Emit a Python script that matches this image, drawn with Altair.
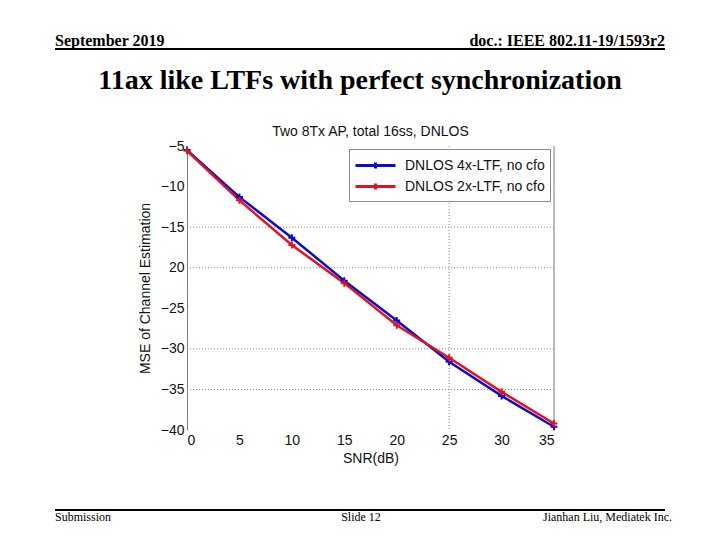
import altair as alt
import pandas as pd

snr = [0, 5, 10, 15, 20, 25, 30, 35]
mse_4x = [-5.5, -11.3, -16.3, -21.6, -26.5, -31.6, -35.8, -39.6]
mse_2x = [-5.6, -11.7, -17.2, -21.9, -27.1, -31.1, -35.3, -39.2]
series_names = ["DNLOS 4x-LTF, no cfo", "DNLOS 2x-LTF, no cfo"]
series_colors = ["#0c0cc8", "#e0141e"]
x_ticks = [0, 5, 10, 15, 20, 25, 30, 35]
y_ticks = [-5, -10, -15, -20, -25, -30, -35, -40]
grid_y = [-15, -20, -30, -35]
grid_x = [25]

rows = []
for name, vals in zip(series_names, [mse_4x, mse_2x]):
    for s, v in zip(snr, vals):
        rows.append({"snr": s, "mse": v, "series": name})
df = pd.DataFrame(rows)

W, H = 367, 284
SANS = "Liberation Sans"
SERIF = "Liberation Serif"

xscale = alt.Scale(domain=[0, 35], nice=False, zero=False)
yscale = alt.Scale(domain=[-40, -5], nice=False, zero=False)
cscale = alt.Scale(domain=series_names, range=series_colors)

x_axis = alt.Axis(
    values=x_ticks, title="SNR(dB)", grid=False, domain=False, ticks=False,
    labelFont=SANS, labelFontSize=14, labelColor="#111", labelPadding=3,
    titleFont=SANS, titleFontSize=14, titleFontWeight="normal", titleColor="#111",
    titlePadding=4,
)
y_axis = alt.Axis(
    values=y_ticks, title="MSE of Channel Estimation", grid=False,
    domain=True, domainColor="#7a7a7a", ticks=False,
    labelExpr="datum.value == -20 ? '20' : datum.label",
    labelFont=SANS, labelFontSize=14, labelColor="#111", labelPadding=3,
    titleFont=SANS, titleFontSize=14, titleFontWeight="normal", titleColor="#111",
    titlePadding=8,
)

base = alt.Chart(df).encode(
    x=alt.X("snr:Q", scale=xscale, axis=x_axis),
    y=alt.Y("mse:Q", scale=yscale, axis=y_axis),
    color=alt.Color(
        "series:N", scale=cscale, sort=series_names,
        legend=alt.Legend(
            title=None, orient="none", legendX=162, legendY=3,
            fillColor="white", strokeColor="#8a8a8a", padding=5,
            symbolType="M-1,0L3,0M1,-0.3L1,0.3", symbolSize=400,
            symbolStrokeWidth=3, symbolFillColor="transparent",
            labelFont=SANS, labelFontSize=14, labelColor="#111",
            labelOffset=28, rowPadding=0, labelLimit=300,
        ),
    ),
)

lines = base.mark_line(strokeWidth=2.5)
points = base.mark_point(
    shape="M-1,0L1,0M0,-1L0,1", filled=False, size=49, strokeWidth=2, opacity=1
)

gy = alt.Chart(pd.DataFrame({"y": grid_y})).mark_rule(
    color="#8a8a8a", strokeDash=[1, 2], strokeWidth=1
).encode(y=alt.Y("y:Q", scale=yscale, axis=y_axis))

gx = alt.Chart(pd.DataFrame({"x": grid_x})).mark_rule(
    color="#8a8a8a", strokeDash=[1, 2], strokeWidth=1
).encode(x=alt.X("x:Q", scale=xscale, axis=x_axis))

right_edge = alt.Chart(pd.DataFrame({"x": [35]})).mark_rule(
    color="#7a7a7a", strokeWidth=1
).encode(x=alt.X("x:Q", scale=xscale, axis=x_axis))

title_txt = alt.Chart(pd.DataFrame({"t": ["Two 8Tx AP, total 16ss, DNLOS"]})).mark_text(
    font=SANS, fontSize=14, color="#111", baseline="alphabetic", align="center"
).encode(x=alt.value(W / 2), y=alt.value(-10), text="t:N")

hdr_left = alt.Chart(pd.DataFrame({"t": ["September 2019"]})).mark_text(
    font=SERIF, fontSize=16, fontWeight="bold", color="black", align="left", baseline="alphabetic"
).encode(x=alt.value(-132), y=alt.value(-100), text="t:N")
hdr_right = alt.Chart(pd.DataFrame({"t": ["doc.: IEEE 802.11-19/1593r2"]})).mark_text(
    font=SERIF, fontSize=16, fontWeight="bold", color="black", align="right", baseline="alphabetic"
).encode(x=alt.value(478), y=alt.value(-100), text="t:N")
hdr_line = alt.Chart(pd.DataFrame({"a": [0]})).mark_rule(color="black", strokeWidth=2).encode(
    x=alt.value(-132), x2=alt.value(478), y=alt.value(-97)
)
main_title = alt.Chart(pd.DataFrame({"t": ["11ax like LTFs with perfect synchronization"]})).mark_text(
    font=SERIF, fontSize=28, fontWeight="bold", color="black", align="center", baseline="alphabetic"
).encode(x=alt.value(173), y=alt.value(-57), text="t:N")

ftr_line = alt.Chart(pd.DataFrame({"a": [0]})).mark_rule(color="black", strokeWidth=2).encode(
    x=alt.value(-132), x2=alt.value(478), y=alt.value(364)
)
ftr_left = alt.Chart(pd.DataFrame({"t": ["Submission"]})).mark_text(
    font=SERIF, fontSize=12, color="black", align="left", baseline="alphabetic"
).encode(x=alt.value(-132), y=alt.value(375), text="t:N")
ftr_mid = alt.Chart(pd.DataFrame({"t": ["Slide 12"]})).mark_text(
    font=SERIF, fontSize=12, color="black", align="center", baseline="alphabetic"
).encode(x=alt.value(174), y=alt.value(375), text="t:N")
ftr_right = alt.Chart(pd.DataFrame({"t": ["Jianhan Liu, Mediatek Inc."]})).mark_text(
    font=SERIF, fontSize=12, color="black", align="right", baseline="alphabetic"
).encode(x=alt.value(485), y=alt.value(375), text="t:N")

chart = alt.layer(
    gy, gx, right_edge, lines, points, title_txt,
    hdr_left, hdr_right, hdr_line, main_title, ftr_line, ftr_left, ftr_mid, ftr_right,
).properties(
    width=W, height=H,
    autosize=alt.AutoSizeParams(type="none"),
    padding={"left": 179, "top": 138, "right": 158, "bottom": 100},
    background="white",
).configure_view(stroke=None)

chart.save("out.html", embed_options={"renderer": "svg", "actions": False})
